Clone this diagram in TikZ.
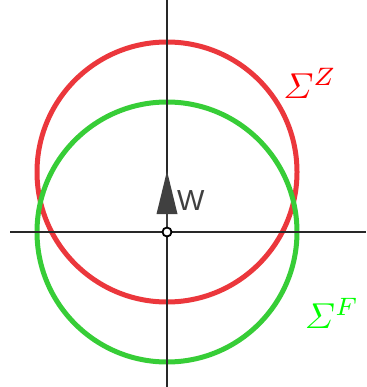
\documentclass[tikz,border=0pt]{standalone}
\usepackage{amsmath}
\usepackage{graphicx}
\usepackage{fontspec}
\newfontfamily\labelfont{Liberation Sans}
\definecolor{ringred}{RGB}{235,55,60}
\definecolor{ringgreen}{RGB}{55,205,55}
\definecolor{axisgray}{RGB}{40,40,40}
\definecolor{vecgray}{RGB}{64,64,64}
\tikzset{
  ring/.style={line width=5pt},
  axis/.style={line width=1.6pt, draw=axisgray},
  sigmalabel/.style={inner sep=0pt},
}
\begin{document}
\begin{tikzpicture}[x=1pt,y=-1pt]
\useasboundingbox (0,0) rectangle (366,387);
\coordinate (O) at (167,232);
\coordinate (zc) at (167,172);
\coordinate (fc) at (167,232);
\coordinate (xl) at (10,232);
\coordinate (xr) at (366,232);
\coordinate (yt) at (167,0);
\coordinate (yb) at (167,387);
\coordinate (tip) at (167,171);
\coordinate (hb) at (167,210);
\coordinate (hl) at (156.5,214);
\coordinate (hr) at (177.5,214);
\draw[ring, draw=ringred] (zc) circle[radius=130];
\draw[ring, draw=ringgreen] (fc) circle[radius=130];
\draw[axis] (xl) -- (xr);
\draw[axis] (yt) -- (yb);
\draw[vecgray, line width=2.8pt] (O) -- (hb);
\fill[vecgray] (tip) -- (hr) -- (hl) -- cycle;
\node[circle, draw=black, fill=white, line width=1.8pt, minimum size=9pt, inner sep=0pt] (dot) at (O) {};
\node[text=vecgray, font=\labelfont\fontsize{29}{30}\selectfont, anchor=west, inner sep=0pt] (w) at (177,201) {W};
\node[text=red, sigmalabel] (sz) at (310,83) {\scalebox{3.6}{$\varSigma^{Z}$}};
\node[text=green, sigmalabel] (sf) at (332,313) {\scalebox{3.6}{$\varSigma^{F}$}};
\end{tikzpicture}
\end{document}
